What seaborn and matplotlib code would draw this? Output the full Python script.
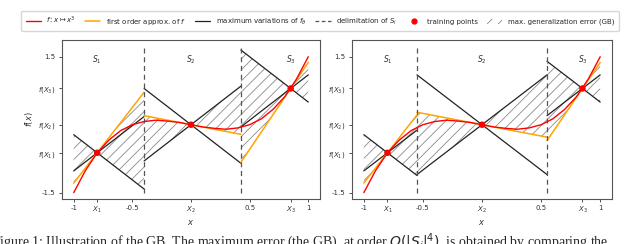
import numpy as np
import seaborn as sns
import matplotlib.pyplot as plt
from matplotlib.lines import Line2D
from matplotlib.patches import Patch

# red curve
x_curve = [-1.0, -0.9, -0.8, -0.7, -0.6, -0.5, -0.4, -0.3, -0.2, -0.1, 0.0,
           0.1, 0.2, 0.3, 0.4, 0.5, 0.6, 0.7, 0.8, 0.9, 1.0]
f_curve = [-1.5, -1.01, -0.62, -0.34, -0.13, 0.0, 0.07, 0.10, 0.08, 0.05, 0.0,
           -0.05, -0.08, -0.10, -0.07, 0.0, 0.13, 0.34, 0.62, 1.01, 1.5]

# training points and local slopes
train_x = [-0.8, 0.0, 0.85]
train_f = [-0.62, 0.0, 0.80]
approx_slope = [3.34, -0.5, 3.84]
max_slope = 2.0

# delimitation of S_i in each panel
bounds = [[-0.4, 0.425], [-0.55, 0.55]]
vline_span = (-1.5, 1.75)

xtick_vals = [-1, train_x[0], -0.5, train_x[1], 0.5, train_x[2], 1]
xtick_labels = ['-1', '$X_1$', '-0.5', '$X_2$', '0.5', '$X_3$', '1']
ytick_vals = [1.5, train_f[2], train_f[1], train_f[0], -1.5]
ytick_labels = ['1.5', '$f(X_3)$', '$f(X_2)$', '$f(X_1)$', '-1.5']
region_labels = ['$S_1$', '$S_2$', '$S_3$']

sns.set_style('ticks')
plt.rcParams['font.family'] = ['DejaVu Sans']
plt.rcParams['hatch.linewidth'] = 0.6
plt.rcParams['hatch.color'] = '#8a8a8a'

fig = plt.figure(figsize=(6.4, 2.44), dpi=100)
ax1 = fig.add_axes([62 / 640, 1 - 199 / 244, 258 / 640, 159 / 244])
ax2 = fig.add_axes([352 / 640, 1 - 199 / 244, 260 / 640, 159 / 244])


def draw_panel(ax, b):
    edges = [-1.0, b[0], b[1], 1.0]
    for i in range(3):
        lo, hi = edges[i], edges[i + 1]
        xi, fi, s = train_x[i], train_f[i], approx_slope[i]
        seg = [lo, hi]
        # maximum variations (cone around training point)
        sns.lineplot(x=seg, y=[fi + max_slope * (e - xi) for e in seg],
                     color='#222222', lw=0.9, ax=ax)
        sns.lineplot(x=seg, y=[fi - max_slope * (e - xi) for e in seg],
                     color='#222222', lw=0.9, ax=ax)
        # first order approx
        sns.lineplot(x=seg, y=[fi + s * (e - xi) for e in seg],
                     color='orange', lw=1.1, ax=ax)
        # hatched max error on each side of the point
        for e in seg:
            oe = fi + s * (e - xi)
            up = fi + max_slope * abs(e - xi)
            down = fi - max_slope * abs(e - xi)
            far = up if abs(oe - up) > abs(oe - down) else down
            ax.fill_between([xi, e], [fi, oe], [fi, far], facecolor='none',
                            hatch='///', edgecolor='#8a8a8a', linewidth=0)
        ax.text(xi, 1.43, region_labels[i], ha='center', va='center',
                fontsize=5.5, color='#333333')

    sns.lineplot(x=x_curve, y=f_curve, color='red', lw=1.0, ax=ax, zorder=4)
    ax.vlines(b, vline_span[0], vline_span[1], colors='#555555',
              linestyles=(0, (4, 3)), lw=0.9)
    sns.scatterplot(x=train_x, y=train_f, color='red', s=22, edgecolor='none',
                    ax=ax, zorder=5)

    ax.set_xlim(-1.1, 1.1)
    ax.set_ylim(-1.64, 1.87)
    ax.set_xticks(xtick_vals)
    ax.set_xticklabels(xtick_labels)
    ax.set_yticks(ytick_vals)
    ax.set_yticklabels(ytick_labels)
    ax.tick_params(labelsize=5, length=2.5, width=0.6, pad=2,
                   colors='#333333')
    ax.set_xlabel('$x$', fontsize=6, labelpad=2, color='#333333')
    for sp in ax.spines.values():
        sp.set_visible(True)
        sp.set_color('#555555')
        sp.set_linewidth(0.8)


draw_panel(ax1, bounds[0])
draw_panel(ax2, bounds[1])
ax1.set_ylabel('$f(x)$', fontsize=6, labelpad=2, color='#333333')

handles = [
    Line2D([], [], color='red', lw=1.0),
    Line2D([], [], color='orange', lw=1.1),
    Line2D([], [], color='#222222', lw=0.9),
    Line2D([], [], color='#555555', lw=0.9, ls=(0, (3, 2))),
    Line2D([], [], color='red', marker='o', ms=3.5, ls='none'),
    Patch(facecolor='none', edgecolor='#8a8a8a', hatch='///', lw=0),
]
labels = [r'$f: x \mapsto x^3$', 'first order approx. of $f$',
          r'maximum variations of $f_\theta$', 'delimitation of $S_i$',
          'training points', 'max. generalization error (GB)']
fig.legend(handles, labels, loc='center', bbox_to_anchor=(320 / 640, 1 - 21 / 244),
           ncol=6, fontsize=5, frameon=True, edgecolor='#cccccc',
           handlelength=2.2, columnspacing=1.3, borderpad=0.6)

fig.text(-0.012, 1 - 231 / 244,
         'Figure 1: Illustration of the GB. The maximum error (the GB), at order '
         r'$O(|S_i|^4)$, is obtained by comparing the',
         fontsize=10, family='Liberation Serif', va='top', ha='left')

fig.savefig('out.png', dpi=100)
